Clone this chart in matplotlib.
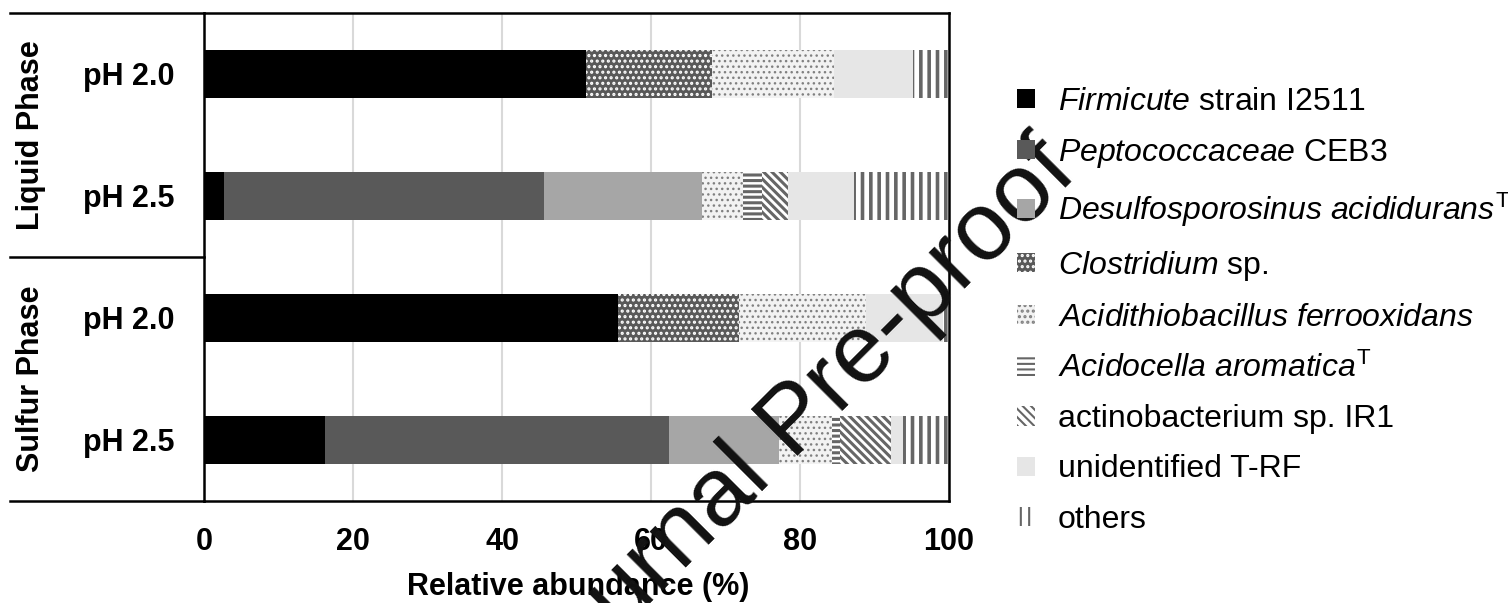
import numpy as np
import matplotlib
matplotlib.use("Agg")
import matplotlib.pyplot as plt

plt.rcParams['font.family'] = ['Liberation Sans', 'DejaVu Sans']
plt.rcParams['mathtext.fontset'] = 'custom'
plt.rcParams['mathtext.rm'] = 'Liberation Sans'
plt.rcParams['mathtext.it'] = 'Liberation Sans:italic'
plt.rcParams['mathtext.bf'] = 'Liberation Sans:bold'
plt.rcParams['hatch.linewidth'] = 2.0

# samples, top to bottom
samples = ['pH 2.0', 'pH 2.5', 'pH 2.0', 'pH 2.5']
groups = ['Liquid Phase', 'Sulfur Phase']

# relative abundance (%) per T-RF, one value per sample
firmicute = [51.3, 2.7, 55.6, 16.2]
peptococcaceae = [0.0, 43.0, 0.0, 46.2]
desulfosporosinus = [0.0, 21.1, 0.0, 14.8]
clostridium = [16.9, 0.0, 16.2, 0.0]
acidithiobacillus = [16.3, 5.5, 17.1, 7.1]
acidocella = [0.0, 2.6, 0.0, 1.1]
actinobacterium = [0.0, 3.5, 0.0, 6.8]
unidentified = [10.7, 8.8, 10.3, 1.6]
others = [4.8, 12.8, 0.8, 6.2]

labels = [r'$\mathit{Firmicute}$ strain I2511',
          r'$\mathit{Peptococcaceae}$ CEB3',
          r'$\mathit{Desulfosporosinus}\ \mathit{acididuran}\mathit{s}^{\mathrm{T}}$',
          r'$\mathit{Clostridium}$ sp.',
          r'$\mathit{Acidithiobacillus}\ \mathit{ferrooxidans}$',
          r'$\mathit{Acidocella}\ \mathit{aromatic}\mathit{a}^{\mathrm{T}}$',
          'actinobacterium sp. IR1',
          'unidentified T-RF',
          'others']

series = [firmicute, peptococcaceae, desulfosporosinus, clostridium,
          acidithiobacillus, acidocella, actinobacterium, unidentified, others]

# (facecolor, hatch colour, hatch, hatch width)
styles = [('black', 'black', None, 2.0),
          ('#595959', '#595959', None, 2.0),
          ('#a6a6a6', '#a6a6a6', None, 2.0),
          ('#595959', 'white', '...', 1.5),
          ('#f2f2f2', '#808080', '...', 1.0),
          ('white', '#666666', '---', 2.2),
          ('white', '#666666', '\\\\\\\\', 2.2),
          ('#e6e6e6', '#e6e6e6', None, 2.0),
          ('white', '#666666', '||', 2.6)]

fig = plt.figure(figsize=(15.08, 6.03), dpi=100)
ax = fig.add_axes([204 / 1508, 1 - 501 / 603, 745 / 1508, 488 / 603])

y = np.arange(len(samples))
left = np.zeros(len(samples))
handles = []
for vals, lab, (fc, hc, h, hw) in zip(series, labels, styles):
    bars = ax.barh(y, vals, left=left, height=0.40, color=fc, edgecolor=hc,
                   hatch=h, linewidth=0, label=lab, zorder=2)
    for p in bars:
        if hasattr(p, 'set_hatch_linewidth'):
            p.set_hatch_linewidth(hw)
    left += np.array(vals)
    handles.append(bars)

ax.set_xlim(0, 100)
ax.set_ylim(3.5, -0.5)
ax.set_xticks([0, 20, 40, 60, 80, 100])
ax.set_xticklabels(['0', '20', '40', '60', '80', '100'], fontsize=22, fontweight='bold')
ax.set_yticks(y)
ax.set_yticklabels(samples, fontsize=22, fontweight='bold')
ax.tick_params(axis='x', length=0, pad=19)
ax.tick_params(axis='y', length=0, pad=21)
ax.grid(axis='x', color='#d9d9d9', linewidth=1.5, zorder=0)
ax.set_axisbelow(True)
for s in ax.spines.values():
    s.set_linewidth(1.8)
    s.set_color('black')

ax.set_xlabel('Relative abundance (%)', fontsize=22, fontweight='bold')
ax.xaxis.set_label_coords(0.502, -0.145)

# left-hand table lines and group labels
for yl in [-0.5, 1.5, 3.5]:
    ax.plot([-0.26, 0], [yl, yl], color='black', linewidth=1.8,
            transform=ax.get_yaxis_transform(), clip_on=False)
ax.text(-0.232, 0.5, groups[0], rotation=90, fontsize=22, fontweight='bold',
        ha='center', va='center', transform=ax.get_yaxis_transform())
ax.text(-0.232, 2.5, groups[1], rotation=90, fontsize=22, fontweight='bold',
        ha='center', va='center', transform=ax.get_yaxis_transform())

leg = fig.legend(handles=handles, labels=labels, loc='upper left',
                 bbox_to_anchor=(1017 / 1508, 1 - 87 / 603), frameon=False,
                 fontsize=23, handlelength=0.55, handleheight=0.55,
                 handletextpad=0.72, labelspacing=0.63, borderpad=0, borderaxespad=0)
for p in leg.get_patches():
    if hasattr(p, 'set_hatch_linewidth'):
        p.set_hatch_linewidth(1.5)

fig.text(0.528, 0.300, 'Journal Pre-proof', rotation=45, fontsize=70,
         ha='center', va='center', rotation_mode='anchor', color='#111111')

fig.savefig('out.png', dpi=100)
